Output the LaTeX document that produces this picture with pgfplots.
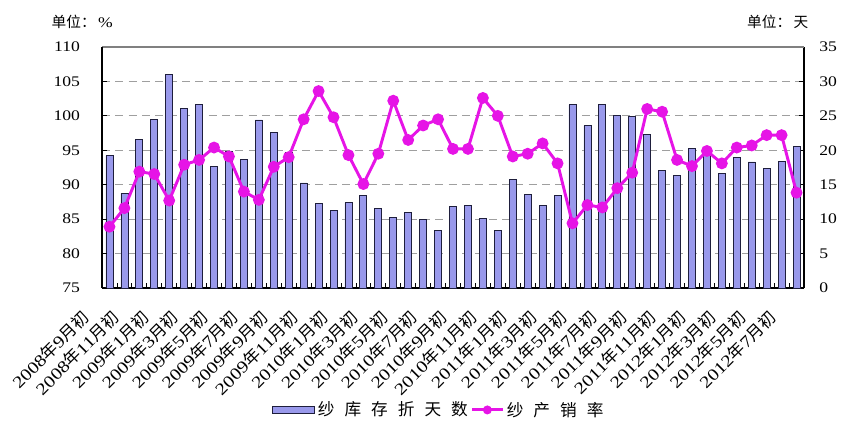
\documentclass[border=0pt]{standalone}
\usepackage{fontspec}
\usepackage{pgfplots}
\usepackage{pgfplotstable}
\pgfplotsset{compat=1.18}
\setmainfont{Liberation Serif}[FakeStretch=1.2]
\newfontfamily\cjk{Noto Sans CJK SC}

\definecolor{barfill}{RGB}{153,153,235}
\definecolor{baredge}{RGB}{30,30,60}
\definecolor{ratecol}{RGB}{230,20,230}

% month label: year, month
\newcommand\ym[2]{#1{\cjk 年}#2{\cjk 月初}}
\newcommand\ls{\hspace{7.5pt}}

% yarn inventory, in days
\pgfplotstableread{
m days
1 19.2
2 13.75
3 21.6
4 24.5
5 31.0
6 26.1
7 26.7
8 17.6
9 19.9
10 18.7
11 24.4
12 22.65
13 19.75
14 15.25
15 12.25
16 11.3
17 12.4
18 13.4
19 11.5
20 10.3
21 11.0
22 10.0
23 8.3
24 11.8
25 12.0
26 10.1
27 8.3
28 15.8
29 13.6
30 12.0
31 13.4
32 26.6
33 23.6
34 26.7
35 25.0
36 24.9
37 22.3
38 17.1
39 16.3
40 20.3
41 19.5
42 16.65
43 18.9
44 18.3
45 17.4
46 18.4
47 20.6
}\daystable

% yarn production-to-sales ratio, in percent
\pgfplotstableread{
m rate
1 83.9
2 86.6
3 91.9
4 91.55
5 87.7
6 92.9
7 93.6
8 95.4
9 94.1
10 89.0
11 87.8
12 92.6
13 94.0
14 99.5
15 103.6
16 99.8
17 94.3
18 90.1
19 94.5
20 102.2
21 96.5
22 98.6
23 99.5
24 95.2
25 95.2
26 102.6
27 100.0
28 94.1
29 94.5
30 96.0
31 93.1
32 84.4
33 87.05
34 86.7
35 89.5
36 91.75
37 101.0
38 100.6
39 93.6
40 92.7
41 94.9
42 93.1
43 95.4
44 95.7
45 97.2
46 97.2
47 88.85
}\ratetable

\begin{document}
\begin{tikzpicture}
\pgfplotsset{/pgf/number format/assume math mode=true}
% right axis: inventory days as bars
\begin{axis}[
  name=bars,
  scale only axis, width=526.5pt, height=180.75pt,
  xmin=0.5, xmax=47.5, ymin=0, ymax=35,
  axis y line*=right, axis x line*=bottom,
  axis line style={black, line width=0.8pt},
  ytick={0,5,...,35},
  ymajorgrids,
  grid style={gray!75, line width=0.6pt, dash pattern=on 6pt off 4pt},
  tick align=inside, major tick length=4pt,
  tick style={black, line width=0.6pt},
  xtick={1.5,2.5,...,46.5}, xticklabels={},
  extra x ticks={1,3,...,47},
  extra x tick labels={\ym{2008}{9},\ym{2008}{11},\ym{2009}{1},\ym{2009}{3},\ym{2009}{5},\ym{2009}{7},\ym{2009}{9},\ym{2009}{11},\ym{2010}{1},\ym{2010}{3},\ym{2010}{5},\ym{2010}{7},\ym{2010}{9},\ym{2010}{11},\ym{2011}{1},\ym{2011}{3},\ym{2011}{5},\ym{2011}{7},\ym{2011}{9},\ym{2011}{11},\ym{2012}{1},\ym{2012}{3},\ym{2012}{5},\ym{2012}{7}},
  extra x tick style={major tick length=0pt},
  xticklabel style={font=\fontsize{12.5}{13}\selectfont, anchor=north east, inner sep=1pt, xshift=-22pt, yshift=-14pt, rotate=45},
  yticklabel style={font=\fontsize{11}{12}\selectfont, xshift=8pt},
]
\addplot[ybar, bar width=5.25pt, fill=barfill, draw=baredge, line width=0.6pt]
  table[x=m, y=days]{\daystable};
\end{axis}
% left axis: production-to-sales ratio as a line
\begin{axis}[
  scale only axis, width=526.5pt, height=180.75pt,
  xmin=0.5, xmax=47.5, ymin=75, ymax=110,
  axis y line*=left, axis x line*=top,
  y axis line style={black, line width=0.8pt},
  x axis line style={gray, line width=0.8pt},
  xtick=\empty,
  ytick={75,80,...,110},
  tick align=inside, major tick length=4pt,
  tick style={black, line width=0.6pt},
  yticklabel style={font=\fontsize{11}{12}\selectfont, xshift=-13pt},
  legend style={at={(0.48,-0.506)}, anchor=center, draw=none, fill=none,
    legend columns=2, font=\cjk\fontsize{12.5}{13}\selectfont,
    /tikz/every even column/.append style={column sep=0pt}},
  legend cell align=left,
]
\addlegendimage{legend image code/.code={\draw[fill=barfill, draw=baredge, line width=0.6pt] (-8pt,-2.6pt) rectangle (24pt,2.6pt);}}
\addlegendentry{纱\ls 库\ls 存\ls 折\ls 天\ls 数}
\addplot[ratecol, line width=2.2pt, mark=*, mark size=3.3pt,
  legend image code/.code={\draw[ratecol, line width=2.2pt] (0pt,0pt) -- (23pt,0pt); \fill[ratecol] (11.5pt,0pt) circle (2.2pt);}]
  table[x=m, y=rate]{\ratetable};
\addlegendentry{纱\ls 产\ls 销\ls 率}
\end{axis}
% unit captions above both value axes
\node[anchor=west, font=\fontsize{11}{12}\selectfont] at ([xshift=-41.25pt, yshift=18.5pt]bars.north west) {{\cjk 单位：}\,\%};
\node[anchor=east, font=\fontsize{11}{12}\selectfont] at ([xshift=6.75pt, yshift=18.5pt]bars.north east) {{\cjk 单位：\,天}};
\pgfresetboundingbox
\path[use as bounding box] ([xshift=-76.5pt, yshift=-99.75pt]bars.south west) rectangle ([xshift=30pt, yshift=35.25pt]bars.north east);
\end{tikzpicture}
\end{document}
